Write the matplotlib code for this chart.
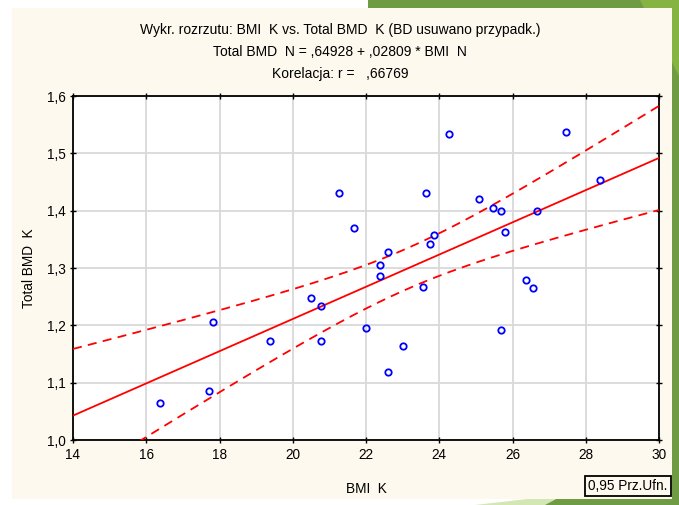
import numpy as np
import matplotlib
matplotlib.use("Agg")
import matplotlib.pyplot as plt
from matplotlib.patches import Rectangle, Polygon
from matplotlib.ticker import FuncFormatter

plt.rcParams['font.family'] = ['Liberation Sans Narrow', 'Liberation Sans', 'DejaVu Sans']

# ---- data ----
bmi = [24.27, 27.47, 21.27, 23.65, 28.39, 21.68, 25.08, 25.48, 25.69, 26.66,
       25.80, 23.86, 23.76, 22.60, 22.39, 22.39, 23.55, 26.36, 26.56, 16.38,
       17.72, 17.82, 19.38, 20.51, 20.77, 20.77, 21.99, 23.00, 22.60, 25.69]
bmd = [1.534, 1.537, 1.431, 1.431, 1.454, 1.370, 1.421, 1.405, 1.399, 1.399,
       1.363, 1.357, 1.341, 1.328, 1.306, 1.286, 1.267, 1.279, 1.265, 1.064,
       1.086, 1.205, 1.173, 1.247, 1.234, 1.173, 1.196, 1.164, 1.119, 1.192]
intercept = 0.64928
slope = 0.02809
t_crit = 2.0484  # t(0.975, df=28)
xticks = [14, 16, 18, 20, 22, 24, 26, 28, 30]
yticks = [1.0, 1.1, 1.2, 1.3, 1.4, 1.5, 1.6]
title_lines = ["Wykr. rozrzutu: BMI  K vs. Total BMD  K (BD usuwano przypadk.)",
               "Total BMD  N = ,64928 + ,02809 * BMI  N",
               "Korelacja: r =   ,66769"]

x = np.array(bmi)
y = np.array(bmd)
n = len(x)
resid = y - (intercept + slope * x)
s = np.sqrt(np.sum(resid ** 2) / (n - 2))
xbar = x.mean()
sxx = np.sum((x - xbar) ** 2)
xs = np.linspace(14, 30, 200)
yfit = intercept + slope * xs
half = t_crit * s * np.sqrt(1.0 / n + (xs - xbar) ** 2 / sxx)

W, H = 679, 505
fig = plt.figure(figsize=(W / 100, H / 100), dpi=100)
fig.patch.set_facecolor('white')

cream = '#fdf9ee'
green = '#6f9b45'
light_green = '#86b443'
# slide decoration
fig.add_artist(Polygon([[368 / W, 1], [1, 1], [1, 0], [672 / W, 0], [672 / W, (H - 8) / H], [368 / W, (H - 8) / H]],
                       closed=True, transform=fig.transFigure, facecolor=green, edgecolor='none', zorder=0))
fig.add_artist(Polygon([[640 / W, 1], [1, 1], [1, 0.85]], closed=True, transform=fig.transFigure,
                       facecolor=light_green, edgecolor='none', zorder=0.5))
fig.add_artist(Polygon([[475 / W, 0], [545 / W, 8 / H], [1, 8 / H], [1, 0]], closed=True,
                       transform=fig.transFigure, facecolor='#d5e6b5', edgecolor='none', zorder=0))
fig.add_artist(Polygon([[545 / W, 0], [560 / W, 8 / H], [1, 8 / H], [1, 0]], closed=True,
                       transform=fig.transFigure, facecolor=green, edgecolor='none', zorder=0.2))
# chart panel
fig.add_artist(Rectangle((12 / W, 6 / H), (672 - 12) / W, (H - 14) / H, transform=fig.transFigure,
                         facecolor=cream, edgecolor='none', zorder=1))

ax = fig.add_axes([73 / W, 1 - 440 / H, (659 - 73) / W, (440 - 96) / H])
ax.set_zorder(2)
ax.set_facecolor('white')

ax.plot(xs, yfit, color='#ff0000', lw=1.3, zorder=3)
ax.plot(xs, yfit + half, color='#ff0000', lw=1.3, ls=(0, (5, 3.5)), zorder=3)
ax.plot(xs, yfit - half, color='#ff0000', lw=1.3, ls=(0, (5, 3.5)), zorder=3)
ax.plot(bmi, bmd, ls='none', marker='o', ms=4.6, mfc='none', mec='#0000ff', mew=1.3, zorder=4)

ax.set_xlim(14, 30)
ax.set_ylim(1.0, 1.6)
ax.set_xticks(xticks)
ax.set_yticks(yticks)
ax.yaxis.set_major_formatter(FuncFormatter(lambda v, p: f"{v:.1f}".replace('.', ',')))
ax.grid(True, color='#d9d9d9', lw=1.3, zorder=0)
ax.set_axisbelow(True)
for sp in ax.spines.values():
    sp.set_color('black')
    sp.set_linewidth(1.3)
ax.tick_params(axis='both', direction='inout', length=4, width=1, labelsize=9.8, colors='black',
               top=True, right=True, pad=3)
ax.tick_params(axis='x', pad=4)

ax.set_xlabel("BMI  K", fontsize=9.8, labelpad=14)
ax.set_ylabel("Total BMD  K", fontsize=9.8, labelpad=8)

for i, line in enumerate(title_lines):
    fig.text(340 / W, 1 - (30 + 22 * i) / H, line, ha='center', va='center',
             fontsize=10, zorder=3)

fig.text(628 / W, 1 - 486 / H, "0,95 Prz.Ufn.", ha='center', va='center', fontsize=9.8, zorder=3,
         bbox=dict(boxstyle='square,pad=0.25', facecolor=cream, edgecolor='black', lw=1.3))

fig.savefig('out.png', dpi=100)
